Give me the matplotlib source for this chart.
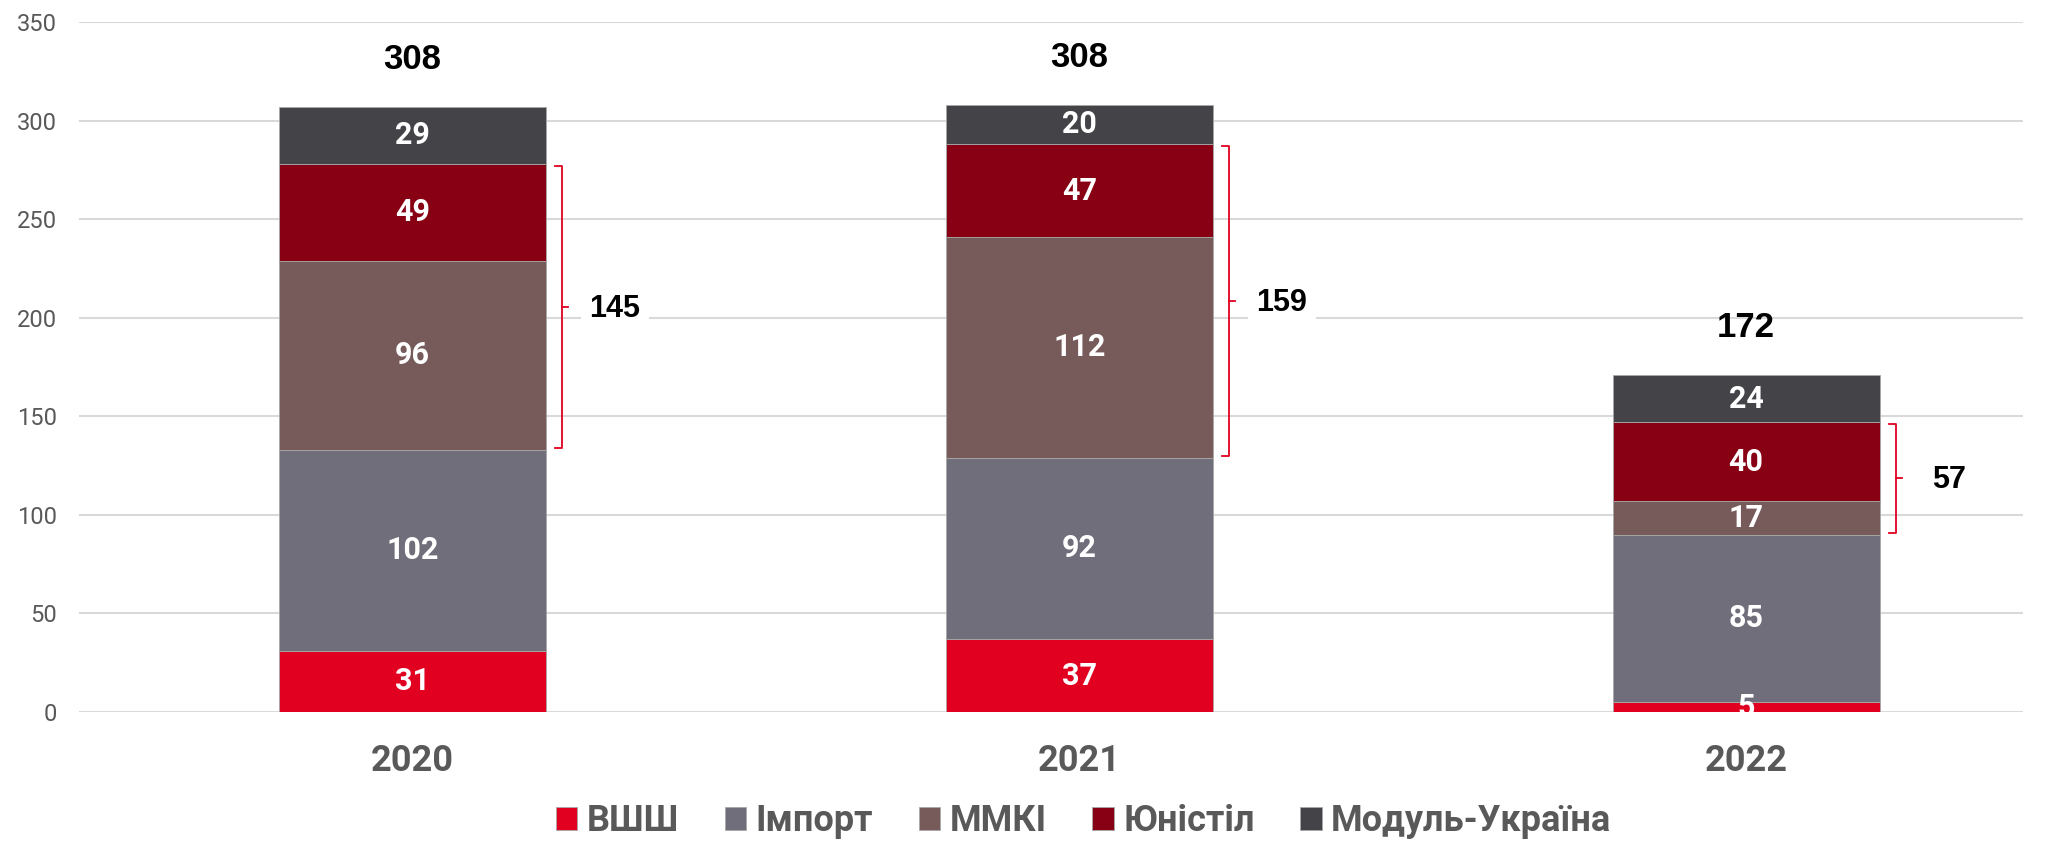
import matplotlib
matplotlib.use("Agg")
import matplotlib.pyplot as plt
import numpy as np

# data
years = ['2020', '2021', '2022']
companies = ['ВШШ', 'Імпорт', 'ММКІ', 'Юністіл', 'Модуль-Україна']
vshsh = [31, 37, 5]
import_ = [102, 92, 85]
mmki = [96, 112, 17]
unistil = [49, 47, 40]
modul = [29, 20, 24]
totals = [308, 308, 172]
bracket_sums = [145, 159, 57]

colors = ['#e10020', '#6f6e7a', '#775a5a', '#870014', '#434348']
series = [vshsh, import_, mmki, unistil, modul]

fig = plt.figure(figsize=(20.6, 8.42), dpi=100)
ax = fig.add_axes([0.0383, 0.1544, 0.9437, 0.8195])

x = np.arange(len(years))
w = 0.4
bottom = np.zeros(len(years))
for name, vals, c in zip(companies, series, colors):
    vals = np.array(vals, dtype=float)
    ax.bar(x, vals, w, bottom=bottom, color=c, edgecolor='#a8a8a8', linewidth=0.6,
           label=name, zorder=3)
    for xi, b, v in zip(x, bottom, vals):
        ax.text(xi, b + v / 2, f'{int(v)}', ha='center', va='center', color='white',
                fontsize=22, fontweight='bold', family='Roboto', zorder=4)
    bottom += vals

# totals above bars
for xi, top, t in zip(x, bottom, totals):
    ax.text(xi, top + 24, str(t), ha='center', va='center', color='black',
            fontsize=25, fontweight='bold', family='Liberation Sans', zorder=4)

# brackets for ММКІ + Юністіл
base = np.array(vshsh) + np.array(import_)
upper = base + np.array(mmki) + np.array(unistil)
for xi, lo, hi, s in zip(x, base, upper, bracket_sums):
    bx = xi + w / 2 + 0.024
    ax.plot([bx - 0.01, bx, bx, bx - 0.01], [hi - 1, hi - 1, lo + 1, lo + 1],
            color='#e10020', lw=1.3, zorder=4)
    mid = (lo + hi) / 2
    ax.plot([bx, bx + 0.01], [mid, mid], color='#e10020', lw=1.3, zorder=4)
    ax.text(xi + w / 2 + 0.104, mid - 1, str(s), ha='center', va='center', color='black',
            fontsize=22, fontweight='bold', family='Liberation Sans', zorder=4,
            bbox=dict(facecolor='white', edgecolor='none', pad=6))

ax.set_ylim(0, 350)
ax.set_xlim(-0.5, 2.415)
ax.set_yticks(range(0, 351, 50))
ax.yaxis.grid(True, color='#d9d9d9', lw=1.5, zorder=0)
ax.set_axisbelow(True)
for sp in ax.spines.values():
    sp.set_visible(False)
ax.tick_params(axis='y', length=0, labelsize=17, labelcolor='#595959', pad=16)
ax.tick_params(axis='x', length=0, pad=22)
ax.set_xticks(x)
ax.set_xticklabels(years, fontsize=26, fontweight='bold', color='#595959', family='Roboto')
for lab in ax.get_yticklabels():
    lab.set_family('Roboto')

leg = fig.legend(loc='lower center', bbox_to_anchor=(0.526, -0.035), ncol=5, frameon=False,
                 handlelength=0.6, handleheight=0.6, handletextpad=0.25,
                 columnspacing=1.27, prop={'family': 'Roboto', 'weight': 'bold', 'size': 26})
for t in leg.get_texts():
    t.set_color('#595959')

fig.savefig('out.png', dpi=100)
